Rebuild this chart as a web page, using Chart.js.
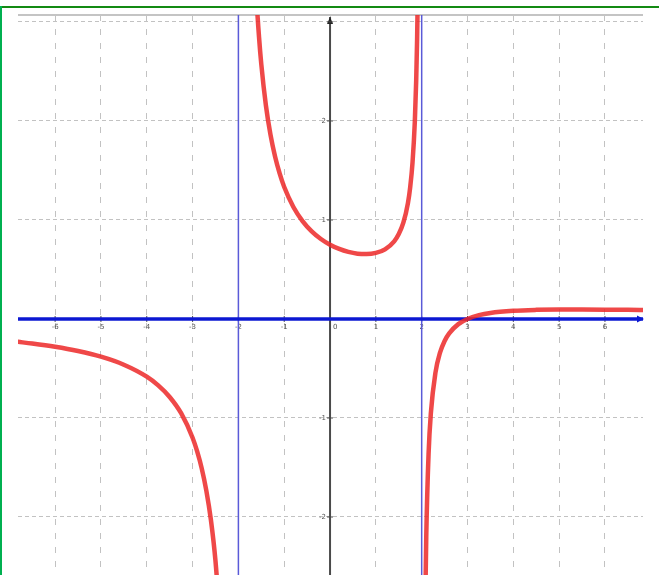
<!DOCTYPE html>
<html>
<head>
<meta charset="utf-8">
<script src="https://cdn.jsdelivr.net/npm/chart.js@4/dist/chart.umd.min.js"></script>
<style>
  html, body { margin: 0; padding: 0; background: #fff; }
  #wrap { width: 659px; height: 575px; }
</style>
</head>
<body>
<div id="wrap"><canvas id="graph"></canvas></div>
<script>
// left branch (x < -2)
var xLeft = [-6.81, -6.5, -6, -5.5, -5, -4.5, -4, -3.75, -3.5, -3.25, -3, -2.9, -2.8, -2.7, -2.6, -2.5, -2.4];
var yLeft = [-0.231, -0.248, -0.281, -0.324, -0.381, -0.462, -0.583, -0.671, -0.788, -0.952, -1.2, -1.338, -1.51, -1.733, -2.029, -2.444, -3.068];
// middle branch (-2 < x < 2)
var xMid = [-1.65, -1.6, -1.55, -1.5, -1.4, -1.3, -1.2, -1.1, -1, -0.8, -0.6, -0.4, -0.2, 0, 0.2, 0.4, 0.6, 0.8, 1, 1.2, 1.4, 1.5, 1.6, 1.7, 1.75, 1.8, 1.85, 1.88, 1.9, 1.92];
var yMid = [3.64, 3.194, 2.848, 2.571, 2.157, 1.861, 1.641, 1.47, 1.333, 1.131, 0.989, 0.885, 0.808, 0.75, 0.707, 0.677, 0.659, 0.655, 0.667, 0.703, 0.784, 0.857, 0.972, 1.171, 1.333, 1.579, 1.991, 2.405, 2.821, 3.444];
// right branch (x > 2)
var xRight = [2.07, 2.08, 2.1, 2.15, 2.2, 2.3, 2.4, 2.5, 2.6, 2.8, 3, 3.25, 3.5, 4, 4.5, 5, 5.5, 6, 6.5, 6.85];
var yRight = [-3.264, -2.819, -2.195, -1.365, -0.952, -0.543, -0.341, -0.222, -0.145, -0.052, 0, 0.038, 0.061, 0.083, 0.092, 0.095, 0.095, 0.094, 0.092, 0.09];
// asymptotes
var vAsym = [-2, 2];
var hAsym = [0];
// axis labels
var xTicks = [-6, -5, -4, -3, -2, -1, 1, 2, 3, 4, 5, 6];
var yTicks = [-2, -1, 1, 2];

var X_MIN = -6.81, X_MAX = 6.83, Y_MIN = -2.586, Y_MAX = 3.07;

function pts(xs, ys) {
  return xs.map(function (v, i) { return { x: v, y: ys[i] }; });
}

var datasets = [];
[[xLeft, yLeft], [xMid, yMid], [xRight, yRight]].forEach(function (b) {
  datasets.push({
    data: pts(b[0], b[1]),
    borderColor: 'rgba(236,40,40,0.85)',
    borderWidth: 4.5,
    pointRadius: 0,
    showLine: true,
    cubicInterpolationMode: 'monotone',
    borderCapStyle: 'round'
  });
});
hAsym.forEach(function (v) {
  datasets.push({
    data: [{ x: X_MIN, y: v }, { x: X_MAX, y: v }],
    borderColor: '#0c18d2',
    borderWidth: 3.5,
    pointRadius: 0,
    showLine: true
  });
});
vAsym.forEach(function (v) {
  datasets.push({
    data: [{ x: v, y: Y_MIN }, { x: v, y: Y_MAX }],
    borderColor: '#5a5ad8',
    borderWidth: 1.5,
    pointRadius: 0,
    showLine: true
  });
});

var decor = {
  id: 'decor',
  beforeDatasetsDraw: function (chart) {
    var ctx = chart.ctx, a = chart.chartArea, sx = chart.scales.x, sy = chart.scales.y;
    var x0 = sx.getPixelForValue(0), y0 = sy.getPixelForValue(0);
    ctx.save();
    // top frame line
    ctx.strokeStyle = '#c4c4c4';
    ctx.lineWidth = 2;
    ctx.beginPath(); ctx.moveTo(a.left, a.top); ctx.lineTo(a.right, a.top); ctx.stroke();
    // y axis
    ctx.strokeStyle = '#4a4a4a';
    ctx.lineWidth = 2;
    ctx.beginPath(); ctx.moveTo(x0, a.top + 2); ctx.lineTo(x0, a.bottom); ctx.stroke();
    ctx.fillStyle = '#222';
    ctx.beginPath(); ctx.moveTo(x0, a.top + 2); ctx.lineTo(x0 - 3, a.top + 9); ctx.lineTo(x0 + 3, a.top + 9); ctx.closePath(); ctx.fill();
    // x axis tick marks
    ctx.strokeStyle = '#4a4a4a';
    ctx.lineWidth = 1;
    xTicks.forEach(function (v) {
      var px = sx.getPixelForValue(v);
      ctx.beginPath(); ctx.moveTo(px, y0 - 3); ctx.lineTo(px, y0 + 3); ctx.stroke();
    });
    yTicks.concat([3]).forEach(function (v) {
      var py = sy.getPixelForValue(v);
      ctx.beginPath(); ctx.moveTo(x0 - 3, py); ctx.lineTo(x0 + 3, py); ctx.stroke();
    });
    // labels
    ctx.fillStyle = '#555';
    ctx.font = '7px "DejaVu Sans"';
    ctx.textAlign = 'center';
    ctx.textBaseline = 'top';
    xTicks.forEach(function (v) {
      ctx.fillText(String(v), sx.getPixelForValue(v), y0 + 5);
    });
    ctx.textAlign = 'left';
    ctx.fillText('0', x0 + 3, y0 + 5);
    ctx.textAlign = 'right';
    ctx.textBaseline = 'middle';
    yTicks.forEach(function (v) {
      ctx.fillText(String(v), x0 - 4, sy.getPixelForValue(v));
    });
    ctx.restore();
  },
  afterDatasetsDraw: function (chart) {
    var ctx = chart.ctx, a = chart.chartArea, sy = chart.scales.y;
    var y0 = sy.getPixelForValue(hAsym[0]);
    ctx.save();
    ctx.fillStyle = '#0c18d2';
    ctx.beginPath(); ctx.moveTo(a.right + 1, y0); ctx.lineTo(a.right - 6, y0 - 3.5); ctx.lineTo(a.right - 6, y0 + 3.5); ctx.closePath(); ctx.fill();
    ctx.restore();
  },
  afterDraw: function (chart) {
    var ctx = chart.ctx;
    ctx.save();
    ctx.fillStyle = '#138a13';
    ctx.fillRect(0, 6, chart.width, 2);
    ctx.fillStyle = '#00b050';
    ctx.fillRect(0, 6, 2, chart.height - 6);
    ctx.restore();
  }
};

new Chart(document.getElementById('graph'), {
  type: 'scatter',
  data: { datasets: datasets },
  options: {
    responsive: true,
    maintainAspectRatio: false,
    animation: false,
    layout: { padding: { left: 18, right: 16, top: 15, bottom: 0 } },
    plugins: { legend: { display: false }, tooltip: { enabled: false } },
    scales: {
      x: {
        type: 'linear',
        min: X_MIN,
        max: X_MAX,
        ticks: { display: false, stepSize: 1, includeBounds: false },
        grid: { color: '#c2c2c2', lineWidth: 1, drawTicks: false },
        border: { display: false, dash: [6, 8] }
      },
      y: {
        type: 'linear',
        min: Y_MIN,
        max: Y_MAX,
        ticks: { display: false, stepSize: 1, includeBounds: false },
        grid: { color: '#c2c2c2', lineWidth: 1, drawTicks: false },
        border: { display: false, dash: [4, 3] }
      }
    }
  },
  plugins: [decor]
});
</script>
</body>
</html>
